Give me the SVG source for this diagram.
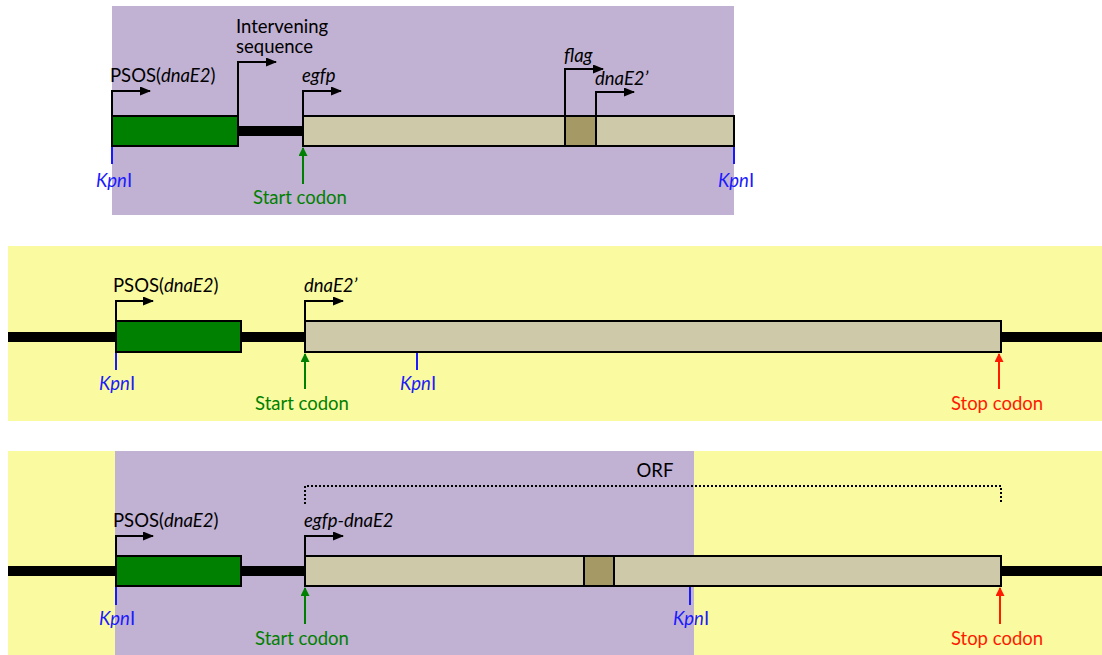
<svg xmlns="http://www.w3.org/2000/svg" width="1102" height="655" viewBox="0 0 1102 655">
<style>
text{font-family:Lato,"Open Sans","Liberation Sans",sans-serif;font-size:18.5px;}
.lbl{fill:#000;}
.kpn{fill:#1a1aff;}
.start{fill:#008000;}
.stop{fill:#ff1a00;}
.dna{stroke:#000;stroke-width:10;}
.prom{fill:#008000;stroke:#000;stroke-width:2;}
.gene{fill:#cec9a8;stroke:#000;stroke-width:2;}
.flag{fill:#a59a66;stroke:#000;stroke-width:2;}
.tss{fill:none;stroke:#000;stroke-width:2;marker-end:url(#ah);}
.site{stroke:#1a1aff;stroke-width:2;}
.sc{stroke:#008000;stroke-width:2;marker-end:url(#ag);}
.ec{stroke:#ff1a00;stroke-width:2;marker-end:url(#ar);}
</style>
<defs>
<marker id="ah" markerWidth="11" markerHeight="9" refX="10" refY="4.5" orient="auto" markerUnits="userSpaceOnUse"><path d="M0,0 L11,4.5 L0,9 z" fill="#000"/></marker>
<marker id="ag" markerWidth="9" markerHeight="10" refX="8" refY="4.5" orient="auto" markerUnits="userSpaceOnUse"><path d="M0,0 L9,4.5 L0,9 z" fill="#008000"/></marker>
<marker id="ar" markerWidth="9" markerHeight="10" refX="8" refY="4.5" orient="auto" markerUnits="userSpaceOnUse"><path d="M0,0 L9,4.5 L0,9 z" fill="#ff1a00"/></marker>
</defs>
<rect width="1102" height="655" fill="#fff"/>

<!-- Panel 1 -->
<g id="panel1">
<rect x="112" y="6" width="622" height="209" fill="#c1b1d3"/>
<line class="dna" x1="238" y1="131" x2="303" y2="131"/>
<rect id="p1-psos" class="prom" x="112" y="116" width="126" height="30"/>
<rect id="p1-egfp" class="gene" x="303" y="116" width="431" height="30"/>
<rect id="p1-flag" class="flag" x="565" y="116" width="31" height="30"/>
</g>

<!-- Panel 2 -->
<g id="panel2">
<rect x="8" y="246" width="1094" height="175" fill="#fafaa0"/>
<line class="dna" x1="8" y1="337" x2="116" y2="337"/>
<line class="dna" x1="241" y1="337" x2="305" y2="337"/>
<line class="dna" x1="1001" y1="337" x2="1102" y2="337"/>
<rect id="p2-psos" class="prom" x="116" y="321" width="125" height="31"/>
<rect id="p2-dnae2" class="gene" x="305" y="321" width="696" height="31"/>
</g>

<!-- Panel 3 -->
<g id="panel3">
<rect x="8" y="451" width="1094" height="204" fill="#fafaa0"/>
<rect x="115" y="451" width="579" height="204" fill="#c1b1d3"/>
<line class="dna" x1="8" y1="571" x2="116" y2="571"/>
<line class="dna" x1="241" y1="571" x2="305" y2="571"/>
<line class="dna" x1="1001" y1="571" x2="1102" y2="571"/>
<rect id="p3-psos" class="prom" x="116" y="556" width="125" height="30"/>
<rect id="p3-fusion" class="gene" x="305" y="556" width="696" height="30"/>
<rect id="p3-flag" class="flag" x="584" y="556" width="30" height="30"/>
<path id="orf" d="M305,504 V486 H1001 V504" fill="none" stroke="#000" stroke-width="2" stroke-dasharray="2,2"/>
</g>

<g id="connectors">
<path class="tss" d="M112,116 V91 H150"/>
<path class="tss" d="M238,116 V62 H276"/>
<path class="tss" d="M303,116 V91 H341"/>
<path class="tss" d="M565,116 V69 H603"/>
<path class="tss" d="M596,116 V92 H634"/>
<line class="site" x1="112" y1="147" x2="112" y2="164"/>
<line class="site" x1="734" y1="147" x2="734" y2="164"/>
<line class="sc" x1="303" y1="184" x2="303" y2="148"/>
<path class="tss" d="M116,321 V301 H153"/>
<path class="tss" d="M305,321 V301 H343"/>
<line class="site" x1="116" y1="353" x2="116" y2="370"/>
<line class="site" x1="417" y1="353" x2="417" y2="370"/>
<line class="sc" x1="305" y1="389" x2="305" y2="354"/>
<line class="ec" x1="999" y1="389" x2="999" y2="354"/>
<path class="tss" d="M116,556 V536 H153"/>
<path class="tss" d="M305,556 V536 H343"/>
<line class="site" x1="116" y1="587" x2="116" y2="605"/>
<line class="site" x1="690" y1="587" x2="690" y2="605"/>
<line class="sc" x1="305" y1="624" x2="305" y2="588"/>
<line class="ec" x1="1000" y1="624" x2="1000" y2="588"/>
</g>

<g id="labels">
<text class="lbl" x="110" y="82">PSOS(<tspan font-style="italic">dnaE2</tspan>)</text>
<text class="lbl" x="236" y="33">Intervening</text>
<text class="lbl" x="236" y="53">sequence</text>
<text class="lbl" x="302" y="82" font-style="italic">egfp</text>
<text class="lbl" x="564" y="62" font-style="italic">flag</text>
<text class="lbl" x="595" y="85" font-style="italic">dnaE2’</text>
<text class="kpn" x="114" y="187" text-anchor="middle"><tspan font-style="italic">Kpn</tspan>I</text>
<text class="kpn" x="736" y="187" text-anchor="middle"><tspan font-style="italic">Kpn</tspan>I</text>
<text class="start" x="300" y="204" text-anchor="middle">Start codon</text>

<text class="lbl" x="113" y="292">PSOS(<tspan font-style="italic">dnaE2</tspan>)</text>
<text class="lbl" x="304" y="292" font-style="italic">dnaE2’</text>
<text class="kpn" x="117" y="390" text-anchor="middle"><tspan font-style="italic">Kpn</tspan>I</text>
<text class="kpn" x="418" y="390" text-anchor="middle"><tspan font-style="italic">Kpn</tspan>I</text>
<text class="start" x="302" y="410" text-anchor="middle">Start codon</text>
<text class="stop" x="997" y="410" text-anchor="middle">Stop codon</text>

<text class="lbl" x="655" y="477" text-anchor="middle">ORF</text>
<text class="lbl" x="113" y="527">PSOS(<tspan font-style="italic">dnaE2</tspan>)</text>
<text class="lbl" x="304" y="527" font-style="italic">egfp-dnaE2</text>
<text class="kpn" x="117" y="625" text-anchor="middle"><tspan font-style="italic">Kpn</tspan>I</text>
<text class="kpn" x="691" y="625" text-anchor="middle"><tspan font-style="italic">Kpn</tspan>I</text>
<text class="start" x="302" y="645" text-anchor="middle">Start codon</text>
<text class="stop" x="997" y="645" text-anchor="middle">Stop codon</text>
</g>
</svg>
